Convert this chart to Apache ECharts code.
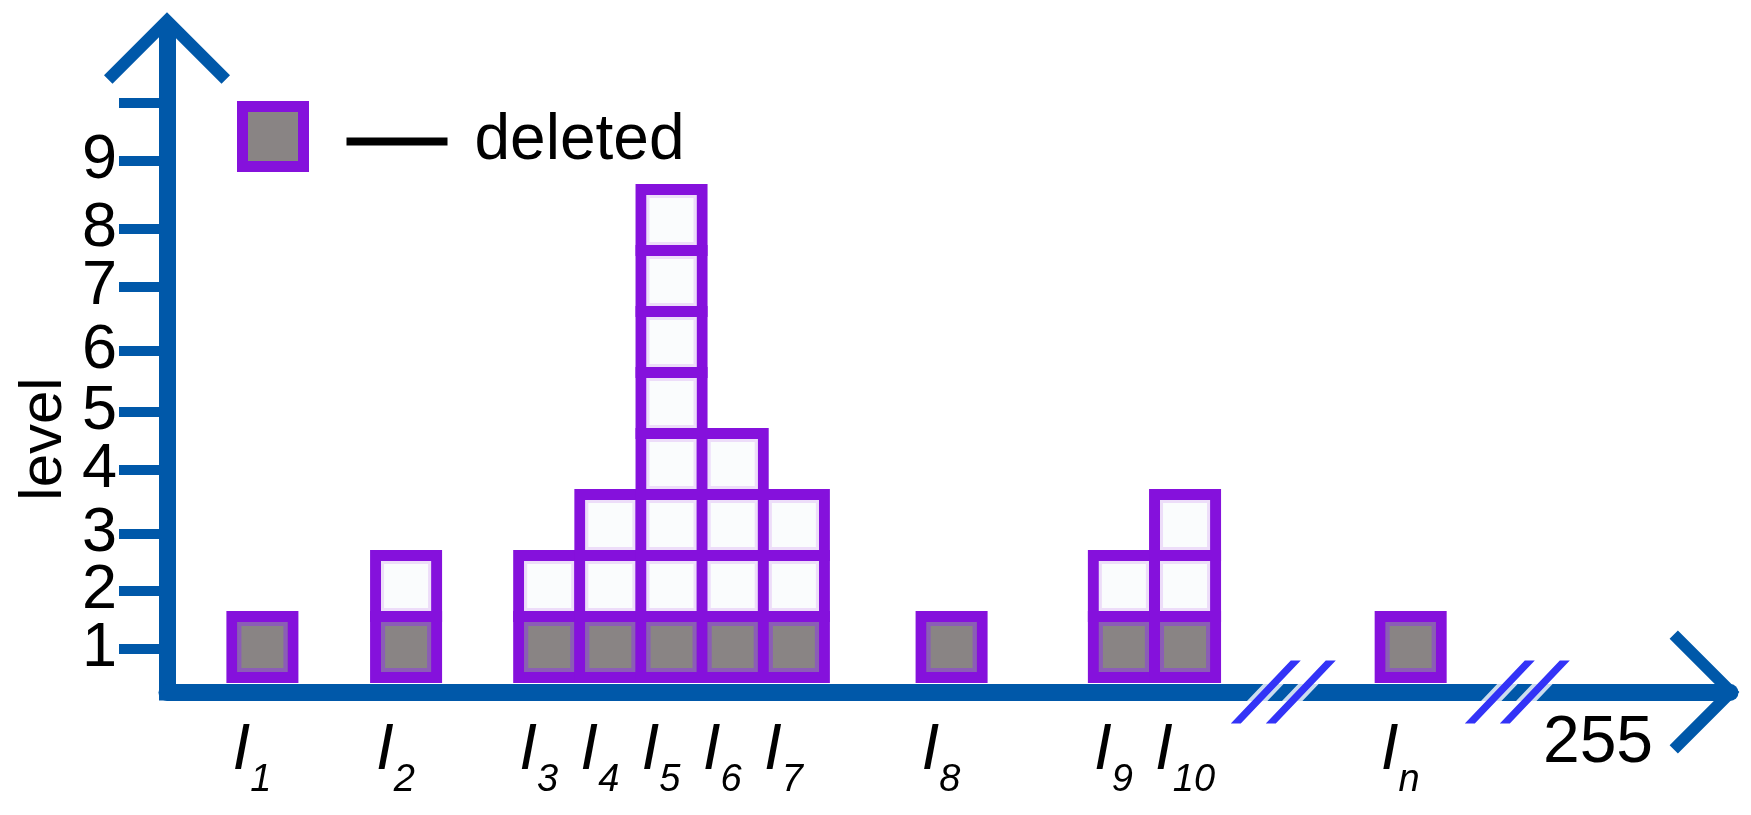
<!DOCTYPE html>
<html><head><meta charset="utf-8">
<script src="https://cdn.jsdelivr.net/npm/echarts@6/dist/echarts.min.js"></script>
<style>html,body{margin:0;padding:0;background:#fff}#c{width:1751px;height:815px}</style>
</head><body><div id="c"></div>
<script>
// ---- data ----
const subscripts = ['1','2','3','4','5','6','7','8','9','10','n'];
const grayLevels = [17.0, 42.6, 68.1, 79.0, 89.9, 100.8, 111.7, 139.8, 170.5, 181.4, 221.6];
const boxCounts = [1, 2, 2, 3, 8, 4, 3, 1, 2, 3, 1];
const deletedCounts = [1, 1, 1, 1, 1, 1, 1, 1, 1, 1, 1];
const yTickValues = [0.467, 1.418, 2.352, 3.402, 4.352, 5.352, 6.41, 7.352, 8.467, 9.418];
const yTickLabels = ['1','2','3','4','5','6','7','8','9',''];
const breakLevels = [198.9, 240.6];
const axisEndLabel = '255';
const legendLabel = 'deleted';
const keptLabel = 'kept';
const yAxisTitle = 'level';

// ---- style ----
const BLUE = '#0058A9';
const PURPLE = '#8511DC';
const GRAY = '#898484';
const GRAY_RING = '#8B5DB6';
const WHITE = '#FAFCFD';
const WHITE_RING = '#EDDDF9';
const SLASH = '#0000F5';
const FONT = 'Liberation Sans';
const BOX_W = 61, BORDER = 11;
const yMin = -0.238, yMax = 10.598, xMin = 0, xMax = 278.5;
const chevron = 'path://M63,0 L126,63 L117.5,71.5 L63,17 L8.5,71.5 L0,63 Z';
const slashes = 'path://M0,63 L10,63 L70,0 L60,0 Z M35,63 L45,63 L105,0 L95,0 Z';

// build one item per box from the arrays
const deletedBoxes = [], keptBoxes = [];
grayLevels.forEach((x, i) => {
  for (let k = 1; k <= boxCounts[i]; k++) {
    (k <= deletedCounts[i] ? deletedBoxes : keptBoxes).push([x, k]);
  }
});

// ECharts drops the label/tick next to the min label when they overlap;
// an invisible guard entry placed second absorbs that pruning.
const guard = (yTickValues[0] + yTickValues[1]) / 2;
const tickVals = [yTickValues[0], guard].concat(yTickValues.slice(1));
const labelVals = [yTickValues[0], guard].concat(yTickValues.slice(1, 9));

function boxRenderer(fill, ring, ringW) {
  return function (params, api) {
    const x = api.value(0), lvl = api.value(1);
    const p0 = api.coord([x, lvl - 1]);
    const p1 = api.coord([x, lvl]);
    const left = p0[0] - BOX_W / 2, top = p1[1], h = p0[1] - p1[1];
    const inset = BORDER / 2 + ringW / 2;
    return {
      type: 'group',
      children: [
        { type: 'rect', shape: { x: left, y: top, width: BOX_W, height: h },
          style: { fill: fill, stroke: PURPLE, lineWidth: BORDER } },
        { type: 'rect', shape: { x: left + inset, y: top + inset, width: BOX_W - 2 * inset, height: h - 2 * inset },
          style: { fill: 'none', stroke: ring, lineWidth: ringW } }
      ]
    };
  };
}

const series = [
  { type: 'custom', name: legendLabel, renderItem: boxRenderer(GRAY, GRAY_RING, 4),
    itemStyle: { color: GRAY }, encode: { x: 0, y: 1 }, data: deletedBoxes, z: 3, silent: true },
  { type: 'custom', name: keptLabel, renderItem: boxRenderer(WHITE, WHITE_RING, 3),
    itemStyle: { color: WHITE }, encode: { x: 0, y: 1 }, data: keptBoxes, z: 3, silent: true },
  { type: 'scatter', name: 'breakHalo', clip: false, z: 5, silent: true,
    symbol: slashes, symbolSize: [105, 63],
    itemStyle: { color: '#fff', borderColor: '#fff', borderWidth: 7 },
    data: breakLevels.map(x => [x, yMin]) },
  { type: 'scatter', name: 'break', clip: false, z: 6, silent: true,
    symbol: slashes, symbolSize: [105, 63],
    itemStyle: { color: SLASH },
    data: breakLevels.map(x => [x, yMin]) }
];

const chart = echarts.init(document.getElementById('c'), null, { renderer: 'canvas' });
chart.setOption({
  animation: false,
  backgroundColor: '#fff',
  textStyle: { fontFamily: FONT },
  grid: { left: 167, right: 21, top: 31, bottom: 123, containLabel: false, outerBoundsMode: 'none' },
  legend: {
    data: [legendLabel], left: 232, top: 96, icon: 'rect',
    itemWidth: 61, itemHeight: 60, selectedMode: false,
    itemStyle: { color: GRAY, borderColor: PURPLE, borderWidth: 11 },
    formatter: name => '{sp1| }{ln| }{sp2| }{t|' + name + '}',
    textStyle: {
      padding: [10, 0, 0, 0],
      rich: {
        sp1: { width: 38 },
        ln: { width: 101, height: 8, backgroundColor: '#000', verticalAlign: 'middle' },
        sp2: { width: 27 },
        t: { fontSize: 64, color: '#000', fontFamily: FONT }
      }
    }
  },
  xAxis: {
    type: 'value', min: xMin, max: xMax,
    name: axisEndLabel, nameLocation: 'end', nameGap: -132,
    nameTextStyle: { fontSize: 66, color: '#000', fontFamily: FONT, align: 'center', verticalAlign: 'top', lineHeight: 66, padding: [19, 0, 0, 0] },
    axisLine: { onZero: false, symbol: ['none', chevron], symbolSize: [123, 71], symbolOffset: [0, -25.5],
      lineStyle: { color: BLUE, width: 17 } },
    axisTick: { show: false },
    splitLine: { show: false },
    axisLabel: {
      customValues: grayLevels,
      formatter: v => '{i|I}{s|' + subscripts[grayLevels.indexOf(v)] + '}',
      align: 'left', padding: [0, 0, 0, -30], margin: 27,
      showMinLabel: true, showMaxLabel: true, hideOverlap: false,
      rich: {
        i: { fontSize: 64, fontStyle: 'italic', fontFamily: FONT, color: '#000', lineHeight: 64, verticalAlign: 'top' },
        s: { fontSize: 38, fontStyle: 'italic', fontFamily: FONT, color: '#000', lineHeight: 38, verticalAlign: 'top', padding: [42, 0, 0, 0] }
      }
    }
  },
  yAxis: {
    type: 'value', min: yMin, max: yMax,
    name: yAxisTitle, nameLocation: 'middle', nameRotate: 90, nameGap: 93, nameMoveOverlap: false,
    nameTextStyle: { fontSize: 60, color: '#000', fontFamily: FONT, padding: [0, 155, 0, 0] },
    axisLine: { show: true, onZero: false, symbol: ['none', chevron], symbolSize: [126, 72], symbolOffset: [0, -17],
      lineStyle: { color: BLUE, width: 17, cap: 'square' } },
    axisTick: { show: true, customValues: tickVals, length: 48, lineStyle: { color: BLUE, width: 10 } },
    splitLine: { show: false },
    axisLabel: {
      customValues: labelVals,
      formatter: v => { const i = yTickValues.indexOf(v); return i < 0 ? ' ' : yTickLabels[i]; },
      showMinLabel: true, showMaxLabel: true, hideOverlap: false,
      margin: 50, fontSize: 63, lineHeight: 40, color: '#000', fontFamily: FONT
    }
  },
  series: series
});
</script>
</body></html>
